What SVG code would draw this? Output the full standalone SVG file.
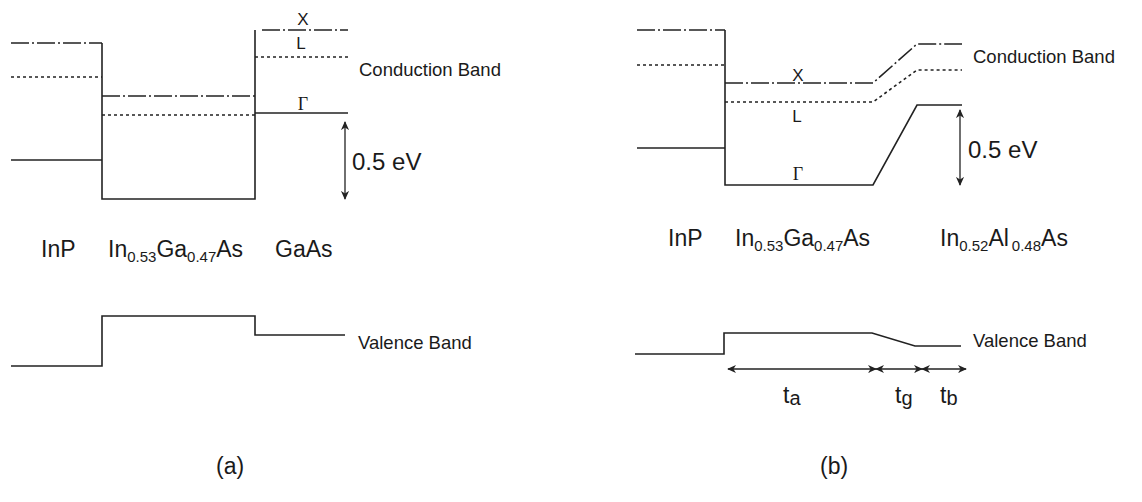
<svg xmlns="http://www.w3.org/2000/svg" width="1142" height="502" viewBox="0 0 1142 502">
<defs>
<marker id="ah" viewBox="0 0 10 10" refX="9" refY="5" markerWidth="9" markerHeight="9" markerUnits="userSpaceOnUse" orient="auto-start-reverse">
<path d="M0,0.5 L10,5 L0,9.5 L3,5 z" fill="#222"/>
</marker>
<style>
.ln{fill:none;stroke:#222;stroke-width:1.6}
.x{fill:none;stroke:#222;stroke-width:1.6;stroke-dasharray:18 3 2 3}
.l{fill:none;stroke:#222;stroke-width:1.6;stroke-dasharray:3 3}
.ar{fill:none;stroke:#222;stroke-width:1.3;marker-start:url(#ah);marker-end:url(#ah)}
text{font-family:"Liberation Sans",Arial,sans-serif;fill:#1a1a1a}
.big{font-size:23px}
.sub{font-size:15px}
.tsub{font-size:20px}
.band{font-size:18.5px}
.ev{font-size:24px}
.sym{font-size:17px}
.gam{font-family:"Liberation Serif","Times New Roman",serif;font-size:18px}
</style>
</defs>
<rect width="1142" height="502" fill="#fff"/>

<g id="diagram-a">
<g id="a-conduction">
<path class="x" d="M11,43 H102"/>
<path class="l" d="M11,77 H102"/>
<path class="ln" d="M11,160 H102"/>
<path class="ln" d="M102,43 V199 H255 V30"/>
<path class="x" d="M102,96 H255"/>
<path class="l" d="M102,115 H255"/>
<path class="x" d="M262,30 H348"/>
<path class="l" d="M255,57 H348"/>
<path class="ln" d="M255,113 H348"/>
<text class="sym" x="303" y="25" text-anchor="middle">X</text>
<text class="sym" x="301" y="49" text-anchor="middle">L</text>
<text class="gam" x="303" y="110" text-anchor="middle">Γ</text>
<text class="band" x="359" y="76">Conduction Band</text>
</g>
<g id="a-gap">
<path class="ar" d="M345,122 V199"/>
<text class="ev" x="352" y="170">0.5 eV</text>
</g>
<g id="a-labels">
<text class="big" x="41" y="257">InP</text>
<text class="big" x="108" y="257">In<tspan class="sub" dy="5">0.53</tspan><tspan dy="-5">Ga</tspan><tspan class="sub" dy="5">0.47</tspan><tspan dy="-5">As</tspan></text>
<text class="big" x="275" y="257">GaAs</text>
</g>
<g id="a-valence">
<path class="ln" d="M11,366 H102 V316 H255 V335 H345"/>
<text class="band" x="358" y="349">Valence Band</text>
</g>
<text class="big" id="label-a" x="216" y="474">(a)</text>
</g>

<g id="diagram-b">
<g id="b-conduction">
<path class="x" d="M637,30 H725"/>
<path class="l" d="M637,65 H725"/>
<path class="ln" d="M637,148 H725"/>
<path class="ln" d="M725,30 V185 H873 L917,105 H962"/>
<path class="x" d="M725,83 H873 L917,44 H962"/>
<path class="l" d="M725,102 H873 L917,70 H962"/>
<text class="sym" x="798" y="81" text-anchor="middle">X</text>
<text class="sym" x="797" y="122" text-anchor="middle">L</text>
<text class="gam" x="798" y="180" text-anchor="middle">Γ</text>
<text class="band" x="973" y="63">Conduction Band</text>
</g>
<g id="b-gap">
<path class="ar" d="M960,110 V185"/>
<text class="ev" x="968" y="158">0.5 eV</text>
</g>
<g id="b-labels">
<text class="big" x="668" y="246">InP</text>
<text class="big" x="735" y="246">In<tspan class="sub" dy="5">0.53</tspan><tspan dy="-5">Ga</tspan><tspan class="sub" dy="5">0.47</tspan><tspan dy="-5">As</tspan></text>
<text class="big" x="940" y="246">In<tspan class="sub" dy="5">0.52</tspan><tspan dy="-5">Al</tspan><tspan class="sub" dx="3" dy="5">0.48</tspan><tspan dy="-5">As</tspan></text>
</g>
<g id="b-valence">
<path class="ln" d="M635,354 H724 V333 H872 L915,346 H961"/>
<text class="band" x="973" y="347">Valence Band</text>
</g>
<g id="b-thickness">
<path class="ar" d="M728,369 H876"/>
<path class="ar" d="M876,369 H922"/>
<path class="ar" d="M922,369 H966"/>
<text class="big" x="783" y="403">t<tspan class="tsub" dy="2">a</tspan></text>
<text class="big" x="895" y="403">t<tspan class="tsub" dy="2">g</tspan></text>
<text class="big" x="940" y="403">t<tspan class="tsub" dy="2">b</tspan></text>
</g>
<text class="big" id="label-b" x="820" y="474">(b)</text>
</g>
</svg>
